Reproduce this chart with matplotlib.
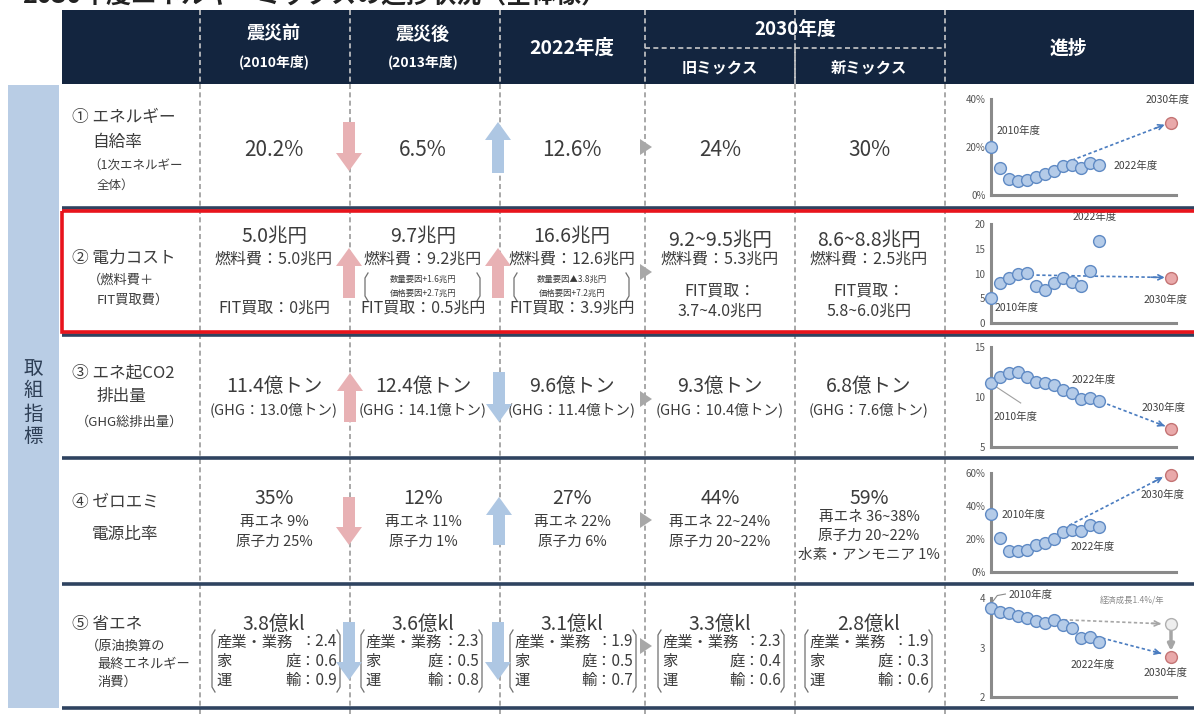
import matplotlib
matplotlib.use('Agg')
import matplotlib.pyplot as plt
from matplotlib.patches import Rectangle, FancyArrow, Polygon

plt.rcParams['font.family'] = ['Noto Sans CJK JP', 'DejaVu Sans']

# ---------------- data ----------------
years = list(range(2010, 2023))
target_year = 2030

self_suff = [20.2, 11.4, 6.6, 6.0, 6.1, 7.3, 8.7, 10.0, 12.0, 12.5, 11.1, 13.4, 12.6]
self_suff_2030 = 30

power_cost = [5.0, 8.1, 9.1, 9.9, 10.1, 7.4, 6.6, 8.0, 9.0, 8.2, 7.5, 10.5, 16.6]
power_cost_2030 = 9.1

co2 = [11.4, 12.0, 12.4, 12.5, 12.0, 11.5, 11.4, 11.2, 10.7, 10.4, 9.8, 9.9, 9.6]
co2_2030 = 6.8

zero_emi = [35, 20.6, 12.5, 12.5, 13.6, 16.2, 17.6, 20.2, 24.2, 25.3, 24.7, 28.3, 27]
zero_emi_2030 = 59

final_energy = [3.8, 3.72, 3.69, 3.63, 3.59, 3.53, 3.49, 3.55, 3.45, 3.40, 3.19, 3.22, 3.12]
final_energy_2030 = 2.8
final_energy_growth_2030 = 3.47

header_cols = ['震災前', '震災後', '2022年度', '旧ミックス', '新ミックス']
header_sub = ['(2010年度)', '(2013年度)']

row1_vals = ['20.2%', '6.5%', '12.6%', '24%', '30%']

row2_total = ['5.0兆円', '9.7兆円', '16.6兆円', '9.2~9.5兆円', '8.6~8.8兆円']
row2_fuel = ['燃料費：5.0兆円', '燃料費：9.2兆円', '燃料費：12.6兆円', '燃料費：5.3兆円', '燃料費：2.5兆円']
row2_factors = [None, ['数量要因+1.6兆円', '価格要因+2.7兆円'],
                ['数量要因▲3.8兆円', '価格要因+7.2兆円'], None, None]
row2_fit = ['FIT買取：0兆円', 'FIT買取：0.5兆円', 'FIT買取：3.9兆円',
            ['FIT買取：', '3.7~4.0兆円'], ['FIT買取：', '5.8~6.0兆円']]

row3_main = ['11.4億トン', '12.4億トン', '9.6億トン', '9.3億トン', '6.8億トン']
row3_ghg = ['(GHG：13.0億トン)', '(GHG：14.1億トン)', '(GHG：11.4億トン)',
            '(GHG：10.4億トン)', '(GHG：7.6億トン)']

row4_main = ['35%', '12%', '27%', '44%', '59%']
row4_sub = [['再エネ 9%', '原子力 25%'], ['再エネ 11%', '原子力 1%'],
            ['再エネ 22%', '原子力 6%'], ['再エネ 22~24%', '原子力 20~22%'],
            ['再エネ 36~38%', '原子力 20~22%', '水素・アンモニア 1%']]

row5_main = ['3.8億kl', '3.6億kl', '3.1億kl', '3.3億kl', '2.8億kl']
row5_industry = ['2.4', '2.3', '1.9', '2.3', '1.9']
row5_home = ['0.6', '0.5', '0.5', '0.4', '0.3']
row5_transport = ['0.9', '0.8', '0.7', '0.6', '0.6']

# ---------------- figure ----------------
W, H = 1194, 714
fig = plt.figure(figsize=(W / 100, H / 100), dpi=100)
fig.patch.set_facecolor('white')
ax = fig.add_axes([0, 0, 1, 1])
ax.set_xlim(0, W)
ax.set_ylim(H, 0)
ax.axis('off')

NAVY = '#13253f'
TXT = '#3c3c3c'
PINK = '#e8b1b4'
BLUE = '#aec7e3'
col_x = [274, 423, 572, 720, 869]
dividers = [200, 350, 500, 645, 795, 945]

# cropped title at the very top (only its lower edge is visible, as in the source)
ax.text(22, 3, '2030年度エネルギーミックスの進捗状況（全体像）', fontsize=18, fontweight='bold',
        color='#222222', va='baseline', ha='left')

# side bar
ax.add_patch(Rectangle((8, 85), 51, 623, color='#b9cde5', lw=0, zorder=1))
for i, ch in enumerate('取組指標'):
    ax.text(33, 368 + i * 23, ch, fontsize=14, color='#2d3e55', ha='center', va='center', zorder=3)

# header
ax.add_patch(Rectangle((62, 10), W - 62, 74, color=NAVY, lw=0, zorder=1))
for i in range(2):
    ax.text(col_x[i], 34, header_cols[i], fontsize=13, fontweight='bold', color='white',
            ha='center', va='center', zorder=3)
    ax.text(col_x[i], 62, header_sub[i], fontsize=10, fontweight='bold', color='white',
            ha='center', va='center', zorder=3)
ax.text(col_x[2], 48, header_cols[2], fontsize=14, fontweight='bold', color='white',
        ha='center', va='center', zorder=3)
ax.text(795, 29, '2030年度', fontsize=13.5, fontweight='bold', color='white',
        ha='center', va='center', zorder=3)
ax.text(col_x[3], 68, header_cols[3], fontsize=11, fontweight='bold', color='white',
        ha='center', va='center', zorder=3)
ax.text(col_x[4], 68, header_cols[4], fontsize=11, fontweight='bold', color='white',
        ha='center', va='center', zorder=3)
ax.text(1068, 48, '進捗', fontsize=13.5, fontweight='bold', color='white',
        ha='center', va='center', zorder=3)
ax.plot([645, 945], [48, 48], color='#c8c8c8', lw=1.2, ls=(0, (3, 2)), zorder=2)
ax.plot([795, 795], [48, 84], color='#c8c8c8', lw=1.2, ls=(0, (3, 2)), zorder=2)

# vertical dashed dividers
for x in dividers:
    ax.plot([x, x], [10, 84], color='#c8c8c8', lw=1.2, ls=(0, (3, 2)), zorder=2)
    ax.plot([x, x], [84, H], color='#9a9a9a', lw=1.2, ls=(0, (3, 2)), zorder=2)

# row separators
for y in [208, 335, 458, 584, 708]:
    ax.plot([62, W], [y, y], color='#2f4360', lw=2.6, zorder=2, solid_capstyle='butt')

# ---------- row labels ----------
lab = dict(color=TXT, ha='left', va='center', zorder=3)
ax.text(72, 117, '① エネルギー', fontsize=12, **lab)
ax.text(92, 142, '自給率', fontsize=12, **lab)
ax.text(88, 165, '（1次エネルギー', fontsize=9, **lab)
ax.text(97, 185, '全体）', fontsize=9, **lab)

ax.text(72, 258, '② 電力コスト', fontsize=12, **lab)
ax.text(88, 280, '（燃料費＋', fontsize=9.5, **lab)
ax.text(97, 300, 'FIT買取費）', fontsize=9.5, **lab)

ax.text(72, 373, '③ エネ起CO2', fontsize=12, **lab)
ax.text(97, 397, '排出量', fontsize=12, **lab)
ax.text(76, 422, '（GHG総排出量）', fontsize=9.5, **lab)

ax.text(72, 502, '④ ゼロエミ', fontsize=12, **lab)
ax.text(92, 534, '電源比率', fontsize=12, **lab)

ax.text(72, 624, '⑤ 省エネ', fontsize=12, **lab)
ax.text(86, 646, '（原油換算の', fontsize=9.5, **lab)
ax.text(97, 664, '最終エネルギー', fontsize=9.5, **lab)
ax.text(97, 682, '消費）', fontsize=9.5, **lab)

ctr = dict(color=TXT, ha='center', va='center', zorder=3)

# ---------- row 1 ----------
for x, v in zip(col_x, row1_vals):
    ax.text(x, 150, v, fontsize=15, **ctr)


def bracket(x0, x1, y0, y1, lw=0.9):
    h = 5
    ax.plot([x0 + 3, x0, x0, x0 + 3], [y0, y0 + h, y1 - h, y1], color='#707070', lw=lw, zorder=3)
    ax.plot([x1 - 3, x1, x1, x1 - 3], [y0, y0 + h, y1 - h, y1], color='#707070', lw=lw, zorder=3)


# ---------- row 2 ----------
br2 = [None, (365, 480), (514, 629), None, None]
for i, x in enumerate(col_x):
    ytot = 236 if i < 3 else 240
    ax.text(x, ytot, row2_total[i], fontsize=14, **ctr)
    ax.text(x, 259, row2_fuel[i], fontsize=11.5, **ctr)
    if row2_factors[i]:
        ax.text(x, 279, row2_factors[i][0], fontsize=6, **ctr)
        ax.text(x, 293, row2_factors[i][1], fontsize=6, **ctr)
        bracket(br2[i][0], br2[i][1], 273, 301)
    if isinstance(row2_fit[i], list):
        ax.text(x, 291, row2_fit[i][0], fontsize=11.5, **ctr)
        ax.text(x, 311, row2_fit[i][1], fontsize=11.5, **ctr)
    else:
        ax.text(x, 308, row2_fit[i], fontsize=11.5, **ctr)

# ---------- row 3 ----------
for x, m, g in zip(col_x, row3_main, row3_ghg):
    ax.text(x, 386, m, fontsize=14, **ctr)
    ax.text(x, 410, g, fontsize=10.5, **ctr)

# ---------- row 4 ----------
for i, x in enumerate(col_x):
    ax.text(x, 499, row4_main[i], fontsize=14, **ctr)
    subs = row4_sub[i]
    ys = [522, 542] if len(subs) == 2 else [517, 536, 555]
    for y, s in zip(ys, subs):
        ax.text(x, y, s, fontsize=10.5, **ctr)

# ---------- row 5 ----------
br5 = [(212, 340), (361, 482), (510, 636), (658, 784), (805, 932)]
for i, x in enumerate(col_x):
    ax.text(x, 624, row5_main[i], fontsize=14, **ctr)
    b0, b1 = br5[i]
    bracket(b0, b1, 630, 692)
    lines = [('産業・業務', '：' + row5_industry[i]),
             ('家', '庭：' + row5_home[i]),
             ('運', '輸：' + row5_transport[i])]
    for y, (l, r) in zip([642, 661, 680], lines):
        ax.text(b0 + 4, y, l, fontsize=11, color=TXT, ha='left', va='center', zorder=3)
        ax.text(b1 - 3, y, r, fontsize=11, color=TXT, ha='right', va='center', zorder=3)

# ---------- block arrows ----------
def block_arrow(x, y_tail, y_tip, color):
    ax.add_patch(FancyArrow(x, y_tail, 0, y_tip - y_tail, width=12, head_width=26,
                            head_length=18, length_includes_head=True, color=color,
                            lw=0, zorder=4))


block_arrow(349, 122, 171, PINK)
block_arrow(498, 173, 122, BLUE)
block_arrow(349, 298, 248, PINK)
block_arrow(498, 298, 248, PINK)
block_arrow(350, 422, 373, PINK)
block_arrow(499, 372, 422, BLUE)
block_arrow(349, 497, 545, PINK)
block_arrow(499, 545, 497, BLUE)
block_arrow(349, 622, 680, BLUE)
block_arrow(498, 622, 680, BLUE)

for yc in [147, 272, 399, 520, 646]:
    ax.add_patch(Polygon([[640, yc - 8], [640, yc + 8], [652, yc]], closed=True,
                         color='#a8a8a8', lw=0, zorder=4))

# ---------- mini charts ----------
X0, X1 = 991, 1176
PX_PER_YEAR = 9.0
AX_COL = '#8a8a8a'
PT_FACE = '#b4cbe8'
PT_EDGE = '#5f8ac4'
RED_FACE = '#e9a9aa'
RED_EDGE = '#c47474'
ARR = '#4a7cc0'
LBL = dict(fontsize=7.5, color='#404040', ha='left', va='center', clip_on=False)


def mini(ytop, ybot, ymin, ymax, ticks, ticklabels):
    m = fig.add_axes([X0 / W, 1 - ybot / H, (X1 - X0) / W, (ybot - ytop) / H])
    m.set_facecolor('none')
    m.set_xlim(2010, 2010 + (X1 - X0) / PX_PER_YEAR)
    m.set_ylim(ymin, ymax)
    for s in ['top', 'right']:
        m.spines[s].set_visible(False)
    for s in ['left', 'bottom']:
        m.spines[s].set_color(AX_COL)
        m.spines[s].set_linewidth(2.2)
    m.set_xticks([])
    m.set_yticks(ticks)
    m.set_yticklabels(ticklabels)
    m.tick_params(axis='y', length=0, pad=4, labelsize=7, labelcolor='#555555')
    return m


def points(m, vals, target):
    m.plot(years, vals, 'o', ms=8.5, mfc=PT_FACE, mec=PT_EDGE, mew=1.0, clip_on=False, zorder=5)
    m.plot([target_year], [target], 'o', ms=8.5, mfc=RED_FACE, mec=RED_EDGE, mew=1.0,
           clip_on=False, zorder=5)


def dashed_arrow(m, start, end, color=ARR):
    m.plot([start[0], end[0]], [start[1], end[1]], color=color, lw=1.2, ls=(0, (2, 1.5)),
           clip_on=False, zorder=4)
    fx = start[0] + 0.9 * (end[0] - start[0])
    fy = start[1] + 0.9 * (end[1] - start[1])
    m.annotate('', xy=end, xytext=(fx, fy),
               arrowprops=dict(arrowstyle='->', color=color, lw=1.2, mutation_scale=9,
                               shrinkA=0, shrinkB=0), annotation_clip=False, zorder=4)


# chart 1: self-sufficiency
m1 = mini(99, 195, 0, 40, [0, 20, 40], ['0%', '20%', '40%'])
dashed_arrow(m1, (2019.0, 14.5), (2029.3, 29.3))
points(m1, self_suff, self_suff_2030)
m1.text(2010.6, 26.5, '2010年度', **LBL)
m1.text(2023.6, 12.0, '2022年度', **LBL)
m1.text(2027.2, 39.5, '2030年度', **LBL)

# chart 2: power cost
m2 = mini(224, 323, 0, 20, [0, 5, 10, 15, 20], ['0', '5', '10', '15', '20'])
dashed_arrow(m2, (2014.4, 9.7), (2029.3, 9.2))
points(m2, power_cost, power_cost_2030)
m2.text(2019.1, 21.4, '2022年度', **LBL)
m2.text(2010.4, 3.1, '2010年度', **LBL)
m2.text(2027.0, 4.6, '2030年度', **LBL)

# chart 3: CO2
m3 = mini(347, 447, 5, 15, [5, 10, 15], ['5', '10', '15'])
dashed_arrow(m3, (2022.3, 9.5), (2029.3, 7.1))
m3.plot([2010.6, 2013.3], [11.0, 9.4], color='#a0a0a0', lw=0.8, clip_on=False, zorder=3)
points(m3, co2, co2_2030)
m3.text(2018.9, 11.7, '2022年度', **LBL)
m3.text(2010.3, 8.0, '2010年度', **LBL)
m3.text(2026.7, 8.9, '2030年度', **LBL)

# chart 4: zero emission
m4 = mini(473, 572, 0, 60, [0, 20, 40, 60], ['0%', '20%', '40%', '60%'])
dashed_arrow(m4, (2018.7, 28.3), (2029.1, 57.5))
points(m4, zero_emi, zero_emi_2030)
m4.text(2011.2, 34.5, '2010年度', **LBL)
m4.text(2018.8, 15.2, '2022年度', **LBL)
m4.text(2026.6, 46.7, '2030年度', **LBL)

# chart 5: final energy consumption
m5 = mini(598, 697, 2, 4, [2, 3, 4], ['2', '3', '4'])
dashed_arrow(m5, (2018.1, 3.56), (2028.9, 3.48), color='#a6a6a6')
dashed_arrow(m5, (2021.1, 3.25), (2028.9, 2.88))
m5.annotate('', xy=(2030, 2.93), xytext=(2030, 3.40),
            arrowprops=dict(arrowstyle='-|>', color='#a6a6a6', lw=2.5, mutation_scale=9,
                            shrinkA=0, shrinkB=0), annotation_clip=False, zorder=4)
m5.plot([target_year], [final_energy_growth_2030], 'o', ms=8.5, mfc='#eeeeee', mec='#b0b0b0',
        mew=1.0, clip_on=False, zorder=5)
points(m5, final_energy, final_energy_2030)
m5.plot([2010.2, 2010.7, 2011.6], [3.93, 4.05, 4.08], color='#8a8a8a', lw=0.8,
        clip_on=False, zorder=3)
m5.text(2011.9, 4.06, '2010年度', **LBL)
m5.text(2022.1, 3.96, '経済成長1.4%/年', fontsize=6, color='#8a8a8a', ha='left',
        va='center', clip_on=False)
m5.text(2018.8, 2.64, '2022年度', **LBL)
m5.text(2026.9, 2.48, '2030年度', **LBL)

# ---------- red highlight box (top overlay) ----------
ov = fig.add_axes([0, 0, 1, 1])
ov.set_xlim(0, W)
ov.set_ylim(H, 0)
ov.axis('off')
ov.set_facecolor('none')
ov.add_patch(Rectangle((62, 211), W - 62 + 10, 121, fill=False, ec='#e8141c', lw=2.6, zorder=6))

fig.savefig('out.png', dpi=100)
